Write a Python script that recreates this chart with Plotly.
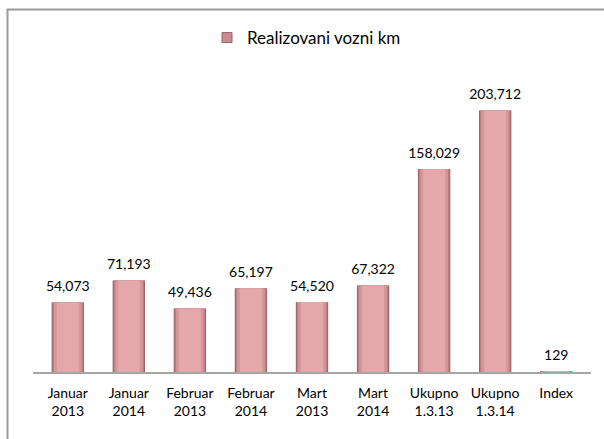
import plotly.graph_objects as go

categories = ["Januar<br>2013", "Januar<br>2014", "Februar<br>2013", "Februar<br>2014",
              "Mart<br>2013", "Mart<br>2014", "Ukupno<br>1.3.13", "Ukupno<br>1.3.14", "Index"]
values = [54073, 71193, 49436, 65197, 54520, 67322, 158029, 203712, 129]
series_name = "Realizovani vozni km"

FONT = "Lato"
W, H = 604, 439
L, R, T, B = 33, 13, 51, 67

fig = go.Figure()

layers = [
    (0.53, "#9A6163"),
    (0.50, "#BD8082"),
    (0.45, "#D5979A"),
    (0.36, "#E4A8AA"),
]
for i, (w, c) in enumerate(layers):
    fig.add_trace(go.Bar(
        x=categories, y=values, width=w,
        marker=dict(color=c, line=dict(width=0)),
        name=series_name, showlegend=False,
        hoverinfo="skip",
    ))

# data labels
fig.add_trace(go.Scatter(
    x=categories, y=values, mode="markers+text",
    marker=dict(size=11, opacity=0),
    text=[f"{v:,}" for v in values], textposition="top center",
    textfont=dict(family=FONT, size=14, color="#000000"),
    showlegend=False, cliponaxis=False, hoverinfo="skip",
))

# legend entry
fig.add_trace(go.Scatter(
    x=[None], y=[None], mode="markers", name=series_name,
    marker=dict(symbol="square", size=10, color="#C98C8E",
                line=dict(color="#9A6163", width=1)),
    showlegend=True,
))

pw = W - L - R
ph = H - T - B
def px_x(x):
    return (x - L) / pw
def px_y(y):
    return (H - B - y) / ph

fig.add_shape(type="path", xref="paper", yref="paper",
              path=f"M {px_x(7.5)} {px_y(445)} L {px_x(7.5)} {px_y(9.5)} L {px_x(610)} {px_y(9.5)}",
              line=dict(color="#9A9A9A", width=2))

fig.update_layout(
    width=W, height=H,
    margin=dict(l=L, r=R, t=T, b=B),
    paper_bgcolor="white", plot_bgcolor="white",
    barmode="overlay",
    font=dict(family=FONT, size=14, color="#000000"),
    legend=dict(orientation="h", x=px_x(207), y=px_y(38), xanchor="left", yanchor="middle",
                font=dict(family=FONT, size=17, color="#000000"), itemwidth=30,
                bgcolor="rgba(0,0,0,0)"),
    xaxis=dict(showline=True, linecolor="#A6A6A6", linewidth=1.5, ticks="", showgrid=False,
               ticklabelstandoff=7,
               tickfont=dict(family=FONT, size=14, color="#000000")),
    yaxis=dict(range=[0, 250000], visible=False, showgrid=False),
)

fig.write_html("out.html", config={"displayModeBar": False},
               post_script="document.body.style.margin='0px';")
